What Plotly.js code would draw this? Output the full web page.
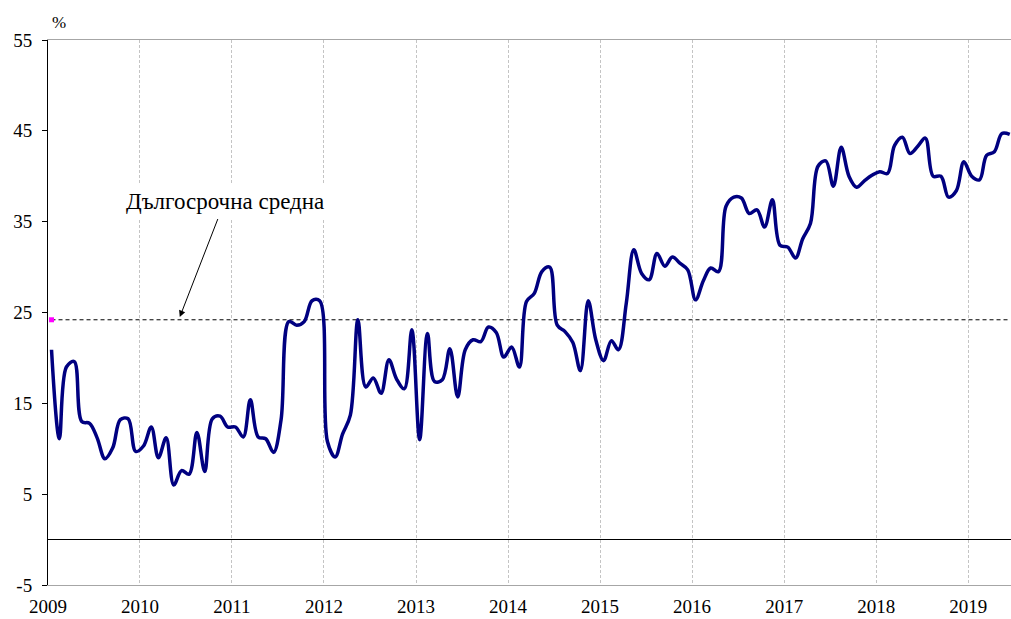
<!DOCTYPE html>
<html>
<head>
<meta charset="utf-8">
<script src="https://cdn.plot.ly/plotly-3.0.1.min.js"></script>
<style>html,body{margin:0;padding:0;background:#fff;}#chart{width:1011px;height:619px;}</style>
</head>
<body>
<div id="chart"></div>
<script>
// Monthly series, Jan 2009 – Jun 2019 (%)
const startYear = 2009;
const values = [
  20.9, 11.1, 19.0, 19.6, 13.0, 12.8, 11.2, 8.9, 10.1, 13.2, 13.3, 9.7,
  10.3, 12.4, 9.0, 11.2, 6.0, 7.6, 7.2, 11.8, 7.5, 13.3, 13.6, 12.4,
  12.4, 11.3, 15.4, 11.3, 11.1, 9.6, 13.2, 24.0, 23.6, 24.0, 26.3, 26.3,
  10.8, 9.1, 11.6, 13.7, 24.2, 16.8, 17.8, 16.1, 19.8, 17.7, 16.6, 23.1,
  11.0, 22.7, 17.4, 17.6, 21.0, 15.7, 20.9, 22.0, 21.8, 23.4, 22.8, 20.1,
  21.2, 19.0, 26.2, 27.1, 29.5, 30.0, 23.6, 22.9, 21.7, 18.6, 26.3, 22.0,
  19.7, 21.9, 20.9, 26.0, 31.9, 29.3, 28.6, 31.5, 30.1, 31.1, 30.4, 29.7,
  26.4, 28.5, 29.9, 29.5, 36.7, 37.7, 37.6, 35.9, 36.3, 34.4, 37.4, 32.4,
  32.2, 31.0, 33.1, 34.8, 41.1, 41.7, 38.9, 43.2, 40.0, 38.8, 39.5, 40.1,
  40.5, 40.3, 43.4, 44.3, 42.5, 43.3, 44.2, 40.0, 40.0, 37.7, 38.4, 41.6,
  40.0, 39.6, 42.3, 42.7, 44.7, 44.6
];
const longTermMean = 24.2;
const yearTicks = [2009, 2010, 2011, 2012, 2013, 2014, 2015, 2016, 2017, 2018, 2019];
const yTicks = [-5, 5, 15, 25, 35, 45, 55];
const meanLabel = "Дългосрочна средна";
const unitLabel = "%";

const dates = values.map((v, i) => {
  const y = startYear + Math.floor(i / 12);
  const m = (i % 12) + 1;
  return y + "-" + String(m).padStart(2, "0") + "-15";
});
const meanLine = dates.map(() => longTermMean);

const serif = "Liberation Serif";

const traces = [
  {x: dates, y: meanLine, mode: "lines", line: {color: "#000", width: 1, dash: "4px,3px"}, hoverinfo: "skip"},
  {x: [dates[0]], y: [longTermMean], mode: "markers", marker: {color: "#ff00ff", size: 5, symbol: "square"}, hoverinfo: "skip"},
  {x: dates, y: values, mode: "lines", line: {color: "#000080", width: 3.5, shape: "spline", smoothing: 1}}
];

const layout = {
  width: 1011, height: 619,
  margin: {l: 48, r: 0, t: 40, b: 34},
  paper_bgcolor: "#fff", plot_bgcolor: "#fff",
  showlegend: false,
  font: {family: serif, size: 19, color: "#000"},
  xaxis: {
    type: "date",
    range: ["2009-01-01", "2019-06-20"],
    tickvals: yearTicks.map(y => y + "-01-01"),
    ticktext: yearTicks.map(String),
    ticks: "",
    showgrid: true, gridcolor: "#c4c4c4", gridwidth: 1, griddash: "3px,2px",
    showline: true, linecolor: "#a6a6a6", linewidth: 1, mirror: true,
    zeroline: false,
    ticklabelstandoff: 4,
    tickfont: {family: serif, size: 19, color: "#000"}
  },
  yaxis: {
    range: [-5, 55],
    tickvals: yTicks, ticktext: yTicks.map(String),
    ticks: "outside", ticklen: 5, tickcolor: "#000", tickwidth: 1,
    showgrid: false,
    showline: true, linecolor: "#000", linewidth: 1,
    zeroline: true, zerolinecolor: "#000", zerolinewidth: 1,
    ticklabelstandoff: 6,
    tickfont: {family: serif, size: 19, color: "#000"}
  },
  annotations: [
    {
      x: "2010-06-08", y: 24.5, xref: "x", yref: "y",
      text: meanLabel, showarrow: true,
      ax: 45, ay: -116,
      arrowhead: 2, arrowsize: 1.3, arrowwidth: 1, arrowcolor: "#000",
      bgcolor: "#fff", borderpad: 5,
      font: {family: serif, size: 23, color: "#000"}
    },
    {
      x: (50 - 48) / 963, y: 1 + (40 - 22) / 545, xref: "paper", yref: "paper",
      xanchor: "left", yanchor: "middle",
      text: unitLabel, showarrow: false,
      font: {family: serif, size: 17, color: "#000"}
    }
  ]
};

Plotly.newPlot("chart", traces, layout, {displayModeBar: false, staticPlot: true});
</script>
</body>
</html>
